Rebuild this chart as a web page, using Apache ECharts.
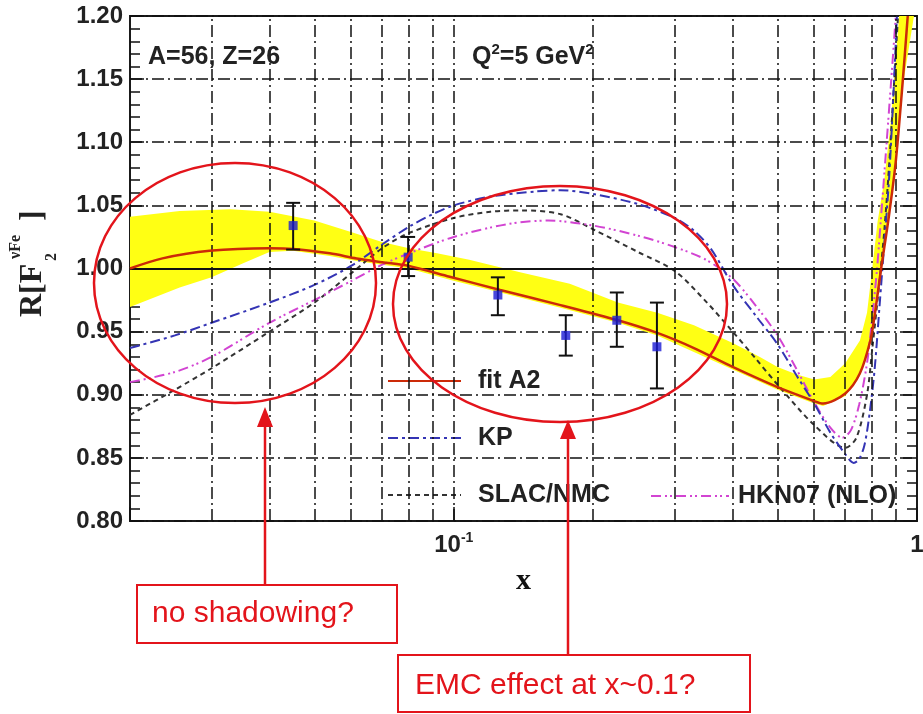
<!DOCTYPE html>
<html>
<head>
<meta charset="utf-8">
<script src="https://cdn.jsdelivr.net/npm/echarts/dist/echarts.min.js"></script>
<style>html,body{margin:0;padding:0;background:#fff}#main{width:923px;height:714px}</style>
</head>
<body>
<div id="main"></div>
<script>
// vertical grid lines of the log x axis
var xGrid = [0.03, 0.04, 0.05, 0.06, 0.07, 0.08, 0.09, 0.1, 0.2, 0.3, 0.4, 0.5, 0.6, 0.7, 0.8, 0.9];

// fit A2 and its error band
var fitA2 = [[0.02,1.0],[0.0235,1.008],[0.0297,1.014],[0.04,1.016],[0.045,1.0155],[0.054,1.012],[0.0617,1.008],[0.07,1.005],[0.08,1.002],[0.098,0.9935],[0.126,0.983],[0.17,0.971],[0.226,0.959],[0.275,0.949],[0.33,0.937],[0.4,0.922],[0.5,0.906],[0.6,0.895],[0.627,0.893],[0.7,0.901],[0.753,0.917],[0.793,0.943],[0.811,0.964],[0.836,0.999],[0.87,1.042],[0.9,1.085],[0.93,1.145],[0.955,1.2]];
var bandUpper = [[0.02,1.041],[0.0256,1.0455],[0.033,1.047],[0.04,1.045],[0.05,1.038],[0.06,1.029],[0.07,1.021],[0.08,1.016],[0.092,1.012],[0.108,1.007],[0.139,0.997],[0.178,0.988],[0.226,0.973],[0.275,0.965],[0.33,0.955],[0.4,0.941],[0.458,0.93],[0.5,0.922],[0.55,0.916],[0.6,0.912],[0.65,0.914],[0.7,0.925],[0.753,0.943],[0.78,0.965],[0.8,0.999],[0.822,1.037],[0.85,1.07],[0.88,1.12],[0.915,1.2]];
var bandLower = [[0.02,0.9696],[0.0256,0.985],[0.03,0.993],[0.035,1.004],[0.04,1.013],[0.045,1.014],[0.054,1.010],[0.0617,1.006],[0.07,1.003],[0.08,1.0],[0.098,0.991],[0.126,0.981],[0.17,0.969],[0.226,0.957],[0.275,0.947],[0.4,0.92],[0.5,0.904],[0.6,0.893],[0.627,0.891],[0.7,0.899],[0.753,0.915],[0.793,0.941],[0.811,0.962],[0.836,0.997],[0.87,1.042],[0.9,1.083],[0.93,1.143],[0.985,1.2]];

// model curves
var kp = [[0.02,0.937],[0.025,0.947],[0.03,0.957],[0.04,0.973],[0.05,0.987],[0.06,1.002],[0.07,1.019],[0.08,1.033],[0.09,1.043],[0.1,1.05],[0.12,1.057],[0.15,1.061],[0.17,1.062],[0.2,1.059],[0.25,1.051],[0.3,1.04],[0.33,1.03],[0.36,1.015],[0.4,0.987],[0.45,0.962],[0.5,0.94],[0.55,0.915],[0.6,0.893],[0.65,0.87],[0.7,0.853],[0.73,0.846],[0.75,0.849],[0.77,0.86],[0.79,0.885],[0.81,0.92],[0.83,0.97],[0.85,1.02],[0.87,1.07],[0.89,1.14],[0.905,1.2]];
var slacNmc = [[0.02,0.884],[0.025,0.904],[0.03,0.921],[0.04,0.95],[0.05,0.973],[0.06,0.996],[0.07,1.016],[0.08,1.028],[0.1,1.04],[0.12,1.045],[0.14,1.046],[0.17,1.043],[0.2,1.031],[0.25,1.013],[0.3,0.998],[0.35,0.974],[0.4,0.95],[0.45,0.928],[0.5,0.908],[0.6,0.876],[0.7,0.858],[0.74,0.866],[0.78,0.9],[0.8,0.935],[0.83,0.99],[0.85,1.03],[0.87,1.08],[0.89,1.14],[0.91,1.2]];
var hkn07 = [[0.02,0.91],[0.025,0.918],[0.03,0.93],[0.04,0.957],[0.05,0.975],[0.06,0.99],[0.07,1.003],[0.08,1.012],[0.1,1.025],[0.13,1.035],[0.16,1.038],[0.2,1.034],[0.25,1.026],[0.3,1.017],[0.35,1.007],[0.4,0.992],[0.45,0.97],[0.5,0.947],[0.55,0.92],[0.6,0.894],[0.65,0.874],[0.69,0.866],[0.72,0.872],[0.75,0.892],[0.78,0.925],[0.8,0.96],[0.82,1.0],[0.84,1.05],[0.86,1.1],[0.88,1.15],[0.9,1.2]];

// measured points with error bars
var dataX = [0.045, 0.0797, 0.1245, 0.1745, 0.2249, 0.2745];
var dataR = [1.034, 1.009, 0.979, 0.947, 0.959, 0.938];
var dataLo = [1.015, 0.994, 0.963, 0.931, 0.938, 0.905];
var dataHi = [1.052, 1.025, 0.993, 0.963, 0.981, 0.973];

var RED = '#e3141b';
var SANS = '"Liberation Sans", Arial, sans-serif';
var SERIF = '"Liberation Serif", "Times New Roman", serif';

var myChart = echarts.init(document.getElementById('main'));

function renderBand(params, api) {
  var pts = [];
  bandUpper.forEach(function (p) { pts.push(api.coord(p)); });
  for (var i = bandLower.length - 1; i >= 0; i--) pts.push(api.coord(bandLower[i]));
  return { type: 'polygon', shape: { points: pts }, style: { fill: '#ffff14' } };
}

function renderErr(params, api) {
  var x = api.value(0);
  var lo = api.coord([x, api.value(1)]);
  var hi = api.coord([x, api.value(2)]);
  var w = 7, st = { stroke: '#111', lineWidth: 2 };
  return { type: 'group', children: [
    { type: 'line', shape: { x1: lo[0], y1: lo[1], x2: hi[0], y2: hi[1] }, style: st },
    { type: 'line', shape: { x1: lo[0] - w, y1: lo[1], x2: lo[0] + w, y2: lo[1] }, style: st },
    { type: 'line', shape: { x1: hi[0] - w, y1: hi[1], x2: hi[0] + w, y2: hi[1] }, style: st }
  ]};
}

function near(a, b) { return Math.abs(a - b) < 1e-6 * b; }

var gridDash = [12, 4, 2, 4];
var legendText = { fontSize: 25, fontWeight: 'bold', fontFamily: SANS, color: '#222', lineHeight: 30 };

var option = {
  animation: false,
  backgroundColor: '#fff',
  grid: { left: 130, right: 6, top: 16, bottom: 193, show: true, borderColor: '#1a1a1a', borderWidth: 2, outerBoundsMode: 'none' },
  xAxis: {
    type: 'log', logBase: 10, min: 0.02, max: 1,
    axisLine: { show: false },
    axisTick: { show: true, inside: true, length: 14, lineStyle: { color: '#111', width: 1.5 } },
    splitLine: { show: false },
    axisLabel: {
      margin: 10,
      formatter: function (v) {
        if (near(v, 0.1)) return '{b|10}{s|-1}';
        if (near(v, 1)) return '{b|1}';
        return '';
      },
      rich: {
        b: { fontSize: 24, fontWeight: 'bold', fontFamily: SANS, color: '#222', lineHeight: 28 },
        s: { fontSize: 14, fontWeight: 'bold', fontFamily: SANS, color: '#222', verticalAlign: 'top', lineHeight: 14 }
      }
    },
    name: 'x', nameLocation: 'middle', nameGap: 45,
    nameTextStyle: { fontFamily: SERIF, fontWeight: 'bold', fontSize: 30, color: '#111' }
  },
  yAxis: [{
    type: 'value', min: 0.8, max: 1.2, interval: 0.05,
    axisLine: { show: false },
    axisTick: { show: true, inside: true, length: 14, lineStyle: { color: '#111', width: 1.5 } },
    minorTick: { show: true, splitNumber: 5, length: 10, lineStyle: { color: '#111', width: 1.5 } },
    splitLine: { show: true, lineStyle: { color: '#111', width: 1.5, type: gridDash } },
    axisLabel: { margin: 7, fontSize: 24, fontWeight: 'bold', fontFamily: SANS, color: '#222',
      formatter: function (v) { return v.toFixed(2); } }
  }, {
    type: 'value', min: 0.8, max: 1.2, interval: 0.05, position: 'right',
    axisLine: { show: false },
    axisTick: { show: true, inside: true, length: 14, lineStyle: { color: '#111', width: 1.5 } },
    minorTick: { show: true, splitNumber: 5, length: 10, lineStyle: { color: '#111', width: 1.5 } },
    splitLine: { show: false },
    axisLabel: { show: false }
  }],
  legend: [{
    data: ['fit A2', 'KP', 'SLAC/NMC'],
    orient: 'vertical', left: 382, top: 361, itemWidth: 73, itemHeight: 14, itemGap: 27,
    selectedMode: false, itemStyle: { opacity: 0 },
    textStyle: Object.assign({ padding: [0, 0, 0, 12] }, legendText)
  }, {
    data: ['HKN07 (NLO)'],
    left: 645, top: 476, itemWidth: 78, itemHeight: 14,
    selectedMode: false, itemStyle: { opacity: 0 },
    textStyle: Object.assign({ padding: [0, 0, 0, 4] }, legendText)
  }],
  series: [{
    // vertical grid lines
    type: 'line', data: [], z: 1, silent: true,
    markLine: {
      silent: true, symbol: 'none', label: { show: false },
      lineStyle: { color: '#111', width: 1.5, type: gridDash },
      data: xGrid.map(function (v) { return { xAxis: v }; })
    }
  }, {
    type: 'custom', name: 'band', z: 2, silent: true,
    renderItem: renderBand, data: [[0.1, 1.0]]
  }, {
    // solid line at R = 1
    type: 'line', data: [], z: 3, silent: true,
    markLine: {
      silent: true, symbol: 'none', label: { show: false },
      lineStyle: { color: '#111', width: 2, type: 'solid' },
      data: [{ yAxis: 1.0 }]
    }
  }, {
    name: 'SLAC/NMC', type: 'line', data: slacNmc, smooth: 0.3, symbol: 'none', z: 4,
    lineStyle: { color: '#333', width: 2, type: [5, 4] }, itemStyle: { color: '#333' }
  }, {
    name: 'HKN07 (NLO)', type: 'line', data: hkn07, smooth: 0.3, symbol: 'none', z: 4,
    lineStyle: { color: '#d244d2', width: 2, type: [10, 4, 2, 3, 2, 4] }, itemStyle: { color: '#d244d2' }
  }, {
    name: 'KP', type: 'line', data: kp, smooth: 0.3, symbol: 'none', z: 4,
    lineStyle: { color: '#3434b4', width: 2, type: [10, 4, 3, 4] }, itemStyle: { color: '#3434b4' }
  }, {
    name: 'fit A2', type: 'line', data: fitA2, smooth: 0.3, symbol: 'none', z: 5,
    lineStyle: { color: '#cc2a08', width: 2.5 }, itemStyle: { color: '#cc2a08' }
  }, {
    type: 'custom', name: 'errors', z: 6, silent: true, renderItem: renderErr,
    data: dataX.map(function (x, i) { return [x, dataLo[i], dataHi[i]]; })
  }, {
    type: 'scatter', name: 'data', z: 7, silent: true, symbol: 'rect', symbolSize: 9,
    itemStyle: { color: '#1c1cd4' },
    data: dataX.map(function (x, i) { return [x, dataR[i]]; })
  }],
  graphic: [
    { type: 'text', x: 148, y: 57, z: 50, style: { text: 'A=56, Z=26', font: 'bold 25px ' + SANS, fill: '#222', verticalAlign: 'middle' } },
    { type: 'text', x: 472, y: 57, z: 50, style: {
      text: '{a|Q}{s|2}{a|=5 GeV}{s|2}', verticalAlign: 'middle',
      rich: {
        a: { fontSize: 25, fontWeight: 'bold', fontFamily: SANS, fill: '#222', lineHeight: 30 },
        s: { fontSize: 15, fontWeight: 'bold', fontFamily: SANS, fill: '#222', verticalAlign: 'top', lineHeight: 15 }
      } } },
    { type: 'group', x: 40, y: 265, rotation: Math.PI / 2, z: 50, children: [
      { type: 'text', x: -52, y: -7, style: { text: 'R[F', font: 'bold 32px ' + SERIF, fill: '#222', verticalAlign: 'middle' } },
      { type: 'text', x: 4, y: 12, style: { text: '2', font: 'bold 16px ' + SERIF, fill: '#222', verticalAlign: 'middle' } },
      { type: 'text', x: 6, y: -24, style: { text: 'νFe', font: 'bold 16px ' + SERIF, fill: '#222', verticalAlign: 'middle' } },
      { type: 'text', x: 44, y: -7, style: { text: ']', font: 'bold 32px ' + SERIF, fill: '#222', verticalAlign: 'middle' } }
    ] },
    { type: 'ellipse', z: 60, shape: { cx: 235, cy: 283, rx: 141, ry: 120 }, style: { fill: 'none', stroke: RED, lineWidth: 2.5 } },
    { type: 'ellipse', z: 60, shape: { cx: 560, cy: 304, rx: 167, ry: 118 }, style: { fill: 'none', stroke: RED, lineWidth: 2.5 } },
    { type: 'line', z: 60, shape: { x1: 265, y1: 585, x2: 265, y2: 424 }, style: { stroke: RED, lineWidth: 2.5 } },
    { type: 'polygon', z: 60, shape: { points: [[265, 407], [257, 427], [273, 427]] }, style: { fill: RED } },
    { type: 'line', z: 60, shape: { x1: 568, y1: 655, x2: 568, y2: 436 }, style: { stroke: RED, lineWidth: 2.5 } },
    { type: 'polygon', z: 60, shape: { points: [[568, 420], [560, 439], [576, 439]] }, style: { fill: RED } },
    { type: 'rect', z: 60, shape: { x: 137, y: 585, width: 260, height: 58 }, style: { fill: '#fff', stroke: RED, lineWidth: 2 } },
    { type: 'text', z: 61, x: 152, y: 614, style: { text: 'no shadowing?', font: '30px ' + SANS, fill: RED, verticalAlign: 'middle' } },
    { type: 'rect', z: 60, shape: { x: 398, y: 655, width: 352, height: 57 }, style: { fill: '#fff', stroke: RED, lineWidth: 2 } },
    { type: 'text', z: 61, x: 415, y: 686, style: { text: 'EMC effect at x~0.1?', font: '30px ' + SANS, fill: RED, verticalAlign: 'middle' } }
  ]
};

myChart.setOption(option);
window.addEventListener('resize', function () { myChart.resize(); });
</script>
</body>
</html>
